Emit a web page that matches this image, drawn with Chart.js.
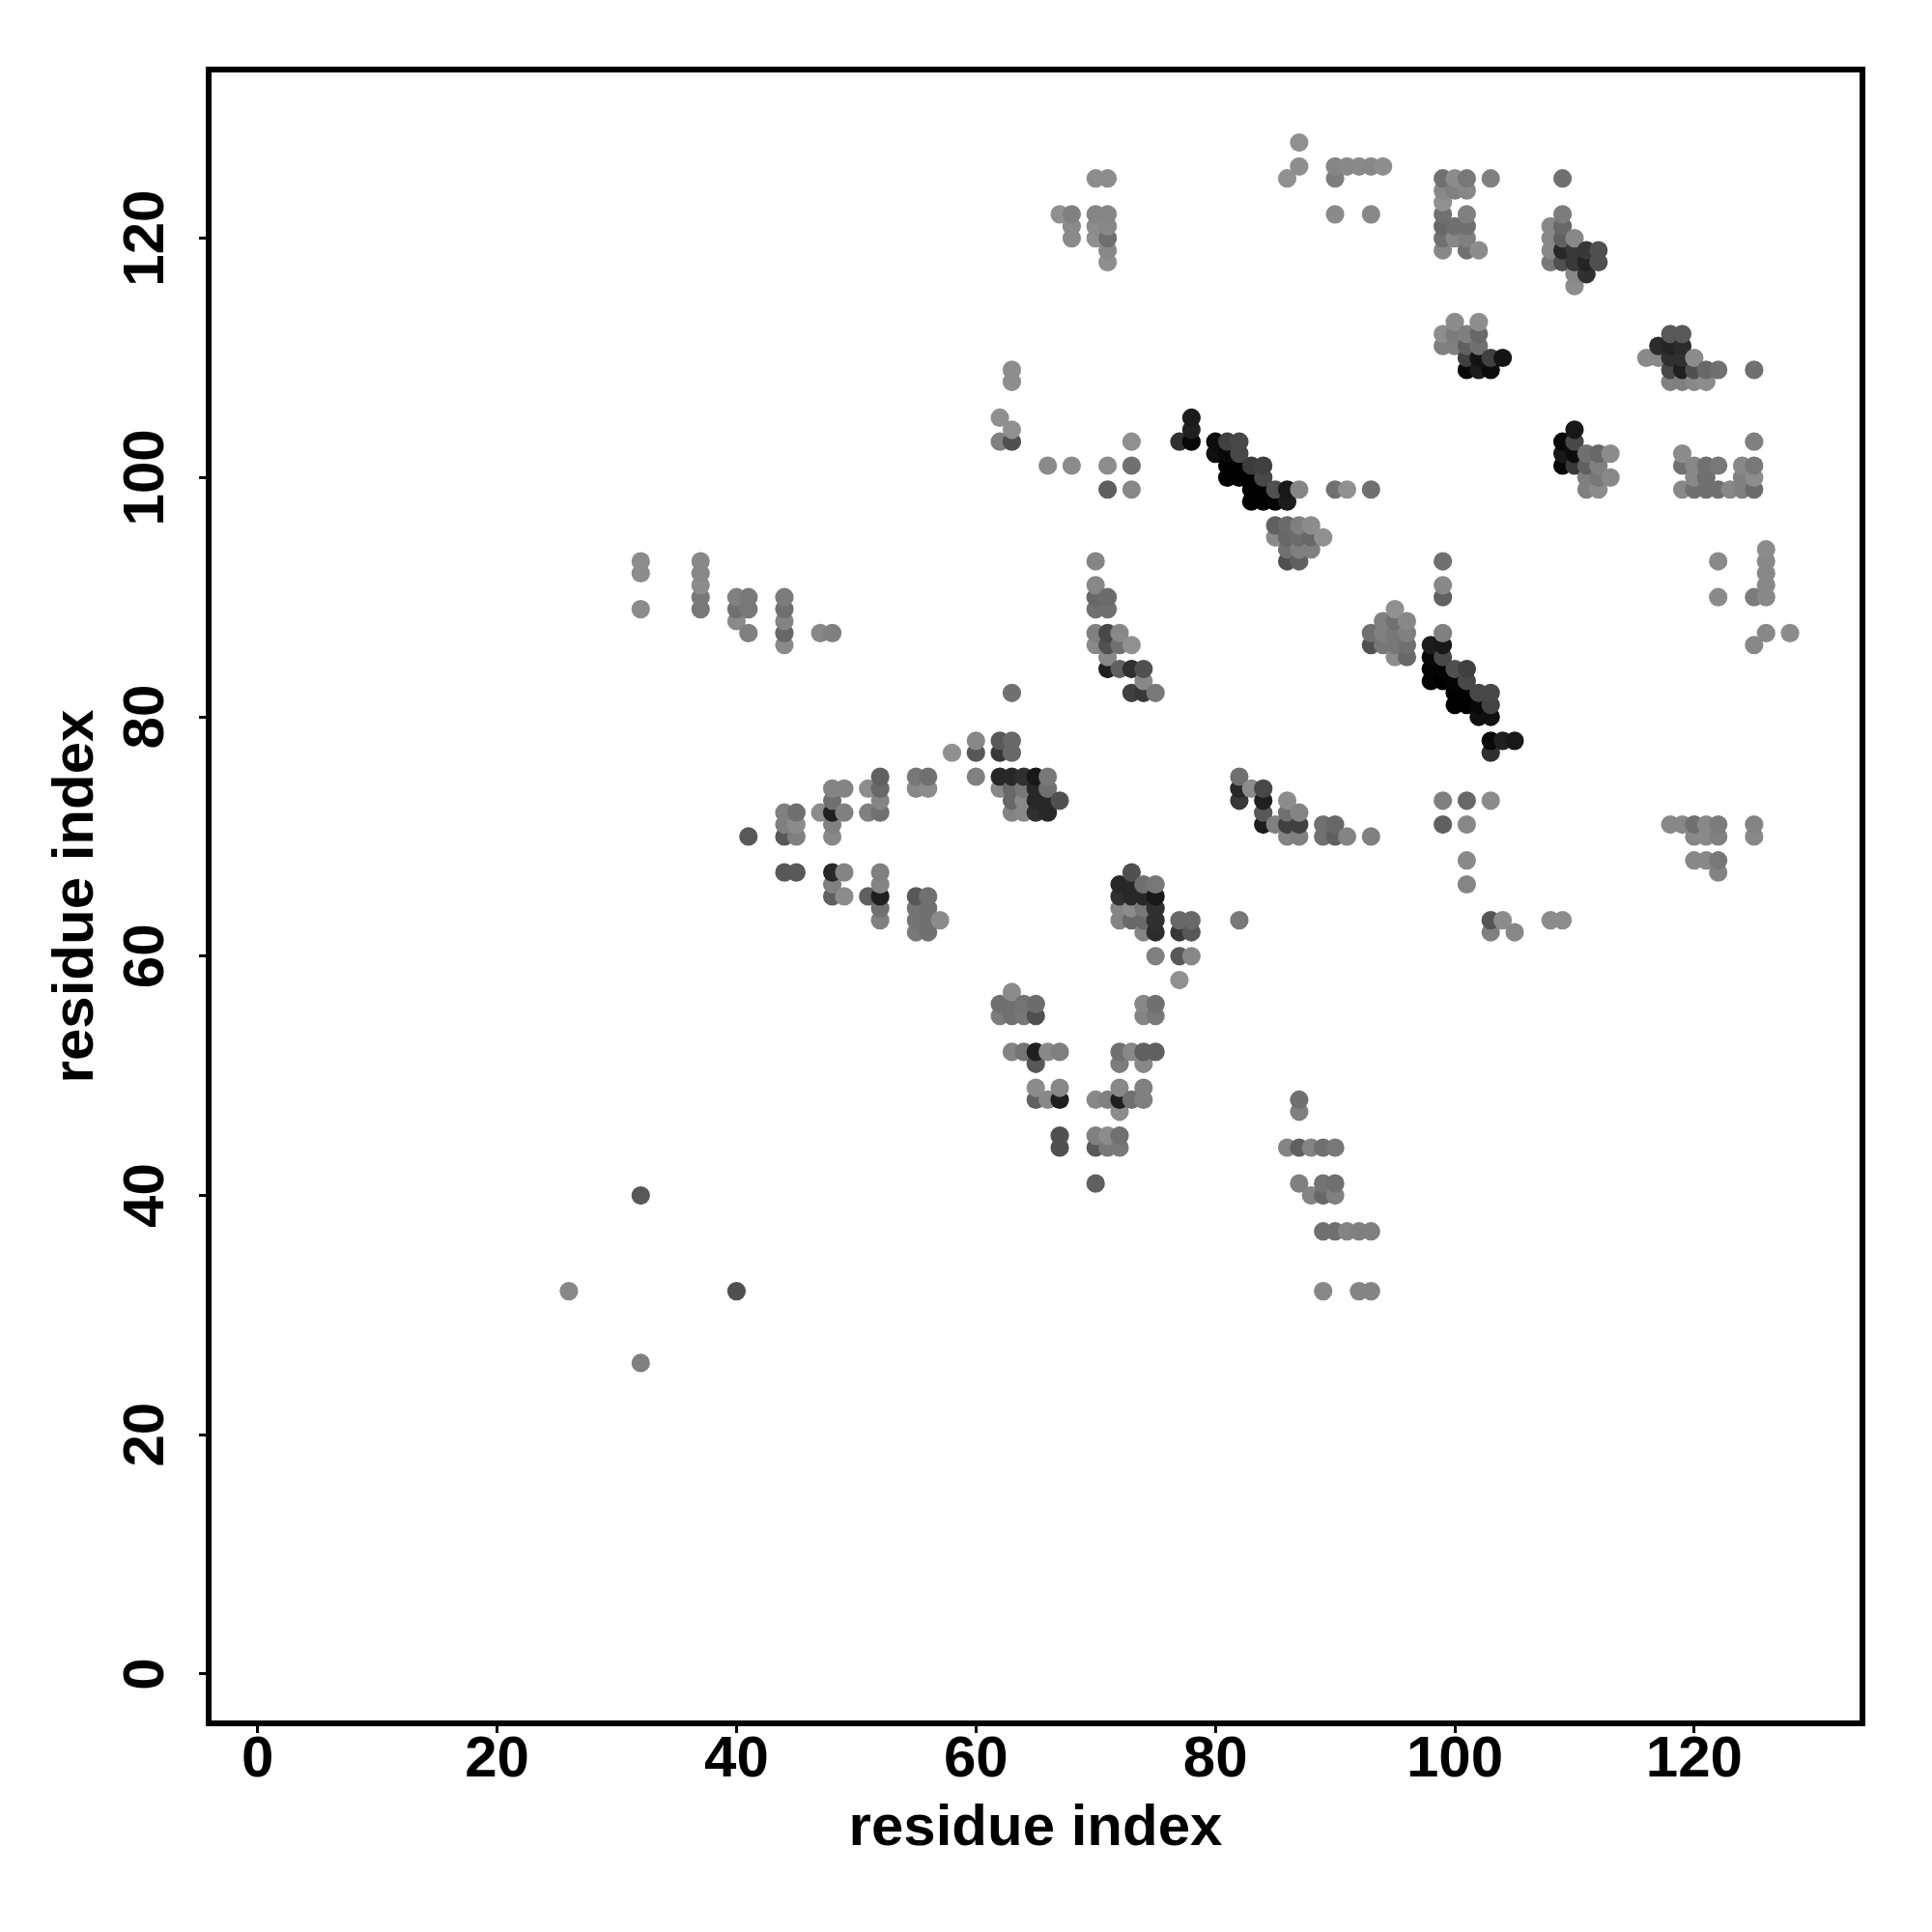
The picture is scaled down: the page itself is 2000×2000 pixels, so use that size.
<!DOCTYPE html>
<html>
<head>
<meta charset="utf-8">
<title>residue contacts</title>
<script src="https://cdn.jsdelivr.net/npm/chart.js@4"></script>
<style>
  html, body { margin: 0; padding: 0; background: #fff; }
  canvas { display: block; }
</style>
</head>
<body>
<canvas id="chart" width="2000" height="2000"></canvas>
<script>
const tickValues = [0, 20, 40, 60, 80, 100, 120];
const axisLabel = "residue index";

// same order in all three arrays, one line per blob in the picture
const residueX = [
  87,87,86,90,91,92,93,94,90,90,93,
  70,71,67,68,68,68,70,71,70,71,70,71,71,71,
  63,63,62,63,62,63,66,68,71,73,73,71,73,
  78,78,78,77,80,81,82,80,81,82,81,82,83,84,81,82,83,84,83,84,85,86,87,83,84,85,86,90,91,93,
  85,86,87,88,85,86,87,88,89,86,87,88,86,87,
  70,70,70,71,70,71,70,71,72,70,71,72,73,71,71,72,73,74,74,73,74,75,
  95,94,95,96,93,94,95,96,93,94,95,96,95,96,
  99,99,99,99,98,99,98,99,98,99,100,101,98,99,100,101,100,101,102,103,100,101,102,103,102,103,103,104,105,103,
  99,101,103,99,101,101,101,103,104,103,105,108,109,
  126,126,126,126,125,126,122,122,126,128,125,
  118,119,120,121,122,120,121,122,125,125,120,121,122,122,
  99,100,101,103,99,100,101,99,99,101,99,100,101,99,100,101,99,101,102,
  109,109,108,109,108,109,110,108,109,110,111,112,108,109,110,111,112,110,111,110,
  100,102,99,100,101,102,99,100,101,102,101,102,103,104,101,102,103,
  118,119,117,118,119,116,117,118,119,120,118,119,120,121,122,125,118,119,120,121,
  110,109,110,109,110,111,112,113,109,110,111,112,111,112,113,111,112,
  125,119,119,120,121,122,124,125,120,121,124,125,119,120,121,122,123,124,125,
  32,32,32,37,37,37,37,37,40,41,40,41,40,41,44,44,44,44,44,47,48,
  41,44,45,44,45,44,45,44,45,
  48,49,48,47,48,49,48,48,48,49,48,48,49,
  51,52,52,52,51,52,51,52,52,52,52,52,
  55,56,55,56,55,56,55,56,55,56,57,55,56,
  58,60,60,60,62,63,62,63,62,63,64,65,66,62,63,64,65,66,63,64,65,66,67,63,64,65,66,63,
  73,72,73,74,75,72,73,74,75,72,73,74,75,72,73,74,75,74,75,75,77,78,77,78,77,78,77,82,
  82,82,82,83,84,84,84,84,85,86,86,87,86,87,86,87,89,90,89,90,91,93,
  63,62,63,64,65,62,63,64,65,74,75,74,75,
  63,64,65,66,67,65,72,73,74,75,72,74,
  65,67,65,66,67,70,71,72,73,74,72,74,72,
  67,67,70,71,72,70,71,72,70,
  87,87,86,87,88,89,90,87,89,90,88,89,90,89,90,91,92,93,89,92,93,
  26,32,32,40
];
const residueY = [
  128,126,125,126,126,126,126,126,125,122,122,
  125,125,122,122,121,120,122,122,121,121,120,120,119,118,
  109,108,105,104,103,103,101,101,101,101,103,99,99,
  105,104,103,103,103,103,103,102,102,102,101,101,101,101,100,100,100,100,99,99,99,99,99,98,98,98,98,99,99,99,
  96,96,96,96,95,95,95,95,95,94,94,94,93,93,
  93,91,90,90,89,89,87,87,87,86,86,86,86,85,84,84,84,84,83,82,82,82,
  89,88,88,88,87,87,87,87,86,86,86,86,85,85,
  93,91,90,87,86,86,85,85,84,84,84,84,83,83,83,83,82,82,82,82,81,81,81,81,80,80,78,78,78,77,
  73,73,73,71,71,68,66,63,63,62,62,63,63,
  94,93,92,91,90,90,93,90,87,87,86,
  71,71,71,71,71,70,70,70,71,70,68,68,68,67,
  125,125,125,125,124,124,124,123,122,122,121,121,121,120,120,120,119,119,119,
  125,122,121,121,120,120,120,119,119,119,119,119,118,118,118,118,118,117,117,116,
  113,113,112,112,112,112,111,111,111,111,110,110,110,110,109,109,109,
  112,112,111,111,111,110,110,110,110,110,109,109,109,109,109,109,108,108,108,108,
  104,103,103,102,102,102,102,102,101,101,101,101,100,100,100,99,99,
  103,102,101,101,101,101,101,101,100,100,100,100,99,99,99,99,99,99,99,
  93,92,89,93,92,91,90,89,90,90,89,89,88,87,90,89,88,87,86,87,87,
  70,72,72,71,71,70,70,67,67,
  74,74,73,72,72,72,71,70,67,67,66,65,65,
  74,75,74,73,72,72,65,67,66,65,64,63,
  75,75,74,74,65,65,64,64,63,63,63,62,62,
  77,78,77,75,78,78,77,77,75,75,75,75,75,74,74,74,74,74,73,73,73,73,73,72,72,72,72,82,
  67,66,66,66,66,65,65,65,65,64,64,64,64,63,63,63,63,62,62,60,63,63,62,62,60,60,58,63,
  75,74,73,74,74,73,72,71,71,73,72,72,71,71,70,70,71,71,70,70,70,70,
  57,56,56,56,56,55,55,55,55,56,56,55,55,
  52,52,52,52,52,51,52,52,52,52,51,51,
  49,49,48,48,48,48,48,48,48,48,49,49,47,
  45,44,45,45,45,44,44,44,41,
  48,47,44,44,44,44,44,41,41,41,40,40,40,37,37,37,37,37,32,32,32,
  32,26,40,32
];
// grey level of each point
const shade = [
  0x90,0x8e,0x90,0x85,0x88,0x8a,0x88,0x8e,0x7d,0x8a,0x88,
  0x8d,0x8d,0x90,0x80,0x8a,0x8a,0x85,0x85,0x8d,0x88,0x90,0x6e,0x88,0x8e,
  0x8d,0x8e,0x90,0x90,0x80,0x50,0x8a,0x8c,0x8d,0x70,0x90,0x5e,0x88,
  0x1c,0x20,0x08,0x30,0x0c,0x40,0x48,0x10,0x08,0x48,0x00,0x00,0x3c,0x40,0x00,0x00,0x00,0x48,0x00,0x00,0x50,0x18,0x85,0x00,0x00,0x04,0x1c,0x70,0x90,0x70,
  0x60,0x6a,0x80,0x8c,0x8a,0x68,0x6c,0x68,0x90,0x70,0x80,0x80,0x50,0x60,
  0x85,0x88,0x68,0x6c,0x70,0x70,0x80,0x48,0x88,0x88,0x50,0x70,0x90,0x88,0x20,0x60,0x30,0x50,0x88,0x40,0x38,0x78,
  0x90,0x80,0x70,0x88,0x70,0x80,0x78,0x80,0x50,0x78,0x78,0x70,0x8c,0x68,
  0x70,0x88,0x60,0x80,0x1c,0x18,0x08,0x48,0x04,0x04,0x50,0x40,0x04,0x00,0x04,0x48,0x00,0x00,0x48,0x48,0x00,0x00,0x08,0x44,0x10,0x10,0x08,0x20,0x18,0x30,
  0x80,0x68,0x8c,0x60,0x88,0x8a,0x85,0x55,0x8c,0x80,0x88,0x8c,0x8c,
  0x8c,0x88,0x88,0x88,0x7c,0x88,0x8a,0x8a,0x88,0x8c,0x88,
  0x88,0x88,0x70,0x88,0x7c,0x88,0x8a,0x80,0x84,0x88,0x88,0x88,0x78,0x84,
  0x70,0x8c,0x78,0x80,0x88,0x80,0x88,0x90,0x70,0x80,0x68,0x70,0x70,0x70,0x88,0x80,0x88,0x70,0x8c,
  0x70,0x7c,0x88,0x68,0x88,0x60,0x88,0x88,0x28,0x38,0x38,0x50,0x78,0x50,0x38,0x24,0x50,0x88,0x30,0x8c,
  0x8c,0x8e,0x8e,0x7c,0x80,0x68,0x80,0x80,0x60,0x70,0x40,0x14,0x40,0x14,0x08,0x1c,0x0c,
  0x58,0x58,0x2c,0x24,0x2c,0x8a,0x88,0x30,0x30,0x8c,0x48,0x20,0x50,0x68,0x70,0x70,0x80,0x80,0x88,0x8c,
  0x18,0x08,0x48,0x18,0x0c,0x70,0x68,0x8c,0x08,0x38,0x60,0x80,0x80,0x78,0x88,0x80,0x8c,
  0x80,0x8c,0x70,0x88,0x70,0x78,0x88,0x78,0x88,0x70,0x80,0x8c,0x88,0x70,0x70,0x70,0x88,0x80,0x6c,
  0x8c,0x8c,0x8c,0x88,0x88,0x8c,0x78,0x78,0x80,0x78,0x70,0x78,0x8a,0x80,0x7c,0x70,0x84,0x68,0x8a,0x88,0x80,
  0x58,0x80,0x70,0x80,0x8c,0x58,0x80,0x58,0x58,
  0x84,0x84,0x70,0x8c,0x20,0x80,0x80,0x88,0x28,0x84,0x80,0x60,0x8c,
  0x8c,0x60,0x68,0x84,0x80,0x70,0x60,0x80,0x84,0x20,0x70,0x80,
  0x78,0x70,0x88,0x8c,0x58,0x70,0x74,0x70,0x74,0x70,0x8c,0x78,0x70,
  0x90,0x88,0x58,0x80,0x58,0x68,0x38,0x68,0x28,0x28,0x30,0x18,0x78,0x88,0x68,0x78,0x28,0x70,0x68,0x88,0x28,0x28,0x50,0x84,0x88,0x30,0x28,0x70,
  0x50,0x28,0x28,0x70,0x78,0x30,0x28,0x28,0x18,0x84,0x8c,0x78,0x30,0x84,0x68,0x68,0x30,0x84,0x2c,0x80,0x68,0x68,0x38,0x58,0x58,0x88,0x90,0x78,
  0x70,0x28,0x38,0x8c,0x48,0x20,0x58,0x1c,0x80,0x8c,0x70,0x84,0x40,0x40,0x84,0x80,0x70,0x68,0x70,0x60,0x84,0x80,
  0x8c,0x70,0x70,0x74,0x6c,0x7c,0x70,0x78,0x50,0x88,0x70,0x84,0x78,
  0x84,0x74,0x20,0x88,0x80,0x58,0x70,0x88,0x60,0x60,0x7c,0x88,
  0x8c,0x88,0x60,0x88,0x20,0x88,0x80,0x20,0x70,0x80,0x88,0x80,0x8c,
  0x50,0x50,0x80,0x8c,0x70,0x58,0x78,0x78,0x60,
  0x70,0x80,0x84,0x60,0x84,0x70,0x78,0x80,0x74,0x70,0x84,0x68,0x80,0x70,0x70,0x84,0x80,0x80,0x88,0x84,0x84,
  0x88,0x80,0x58,0x50
];

// overlaps in the picture go left to right, then bottom to top
const points = residueX
  .map((x, i) => ({ x, y: residueY[i], shade: shade[i] }))
  .sort((a, b) => a.x - b.x || a.y - b.y);

const font = { family: "'Liberation Sans', Arial, sans-serif", size: 60, weight: "bold" };

const frame = {
  id: "frame",
  afterDraw(chart) {
    const { ctx, chartArea: a } = chart;
    ctx.save();
    ctx.strokeStyle = "#000";
    ctx.lineWidth = 6;
    ctx.strokeRect(a.left, a.top, a.right - a.left, a.bottom - a.top);
    ctx.restore();
  }
};

function setTicks(axis) {
  axis.ticks = tickValues.map(value => ({ value }));
}

const gridOpts = {
  drawOnChartArea: false,
  drawTicks: true,
  tickLength: 10,
  tickWidth: 3,
  tickColor: "#000"
};

new Chart(document.getElementById("chart"), {
  type: "scatter",
  data: {
    datasets: [{
      data: points,
      pointRadius: 9.6,
      pointBorderWidth: 0,
      pointBackgroundColor: c => {
        const g = c.raw.shade;
        return `rgb(${g},${g},${g})`;
      }
    }]
  },
  plugins: [frame],
  options: {
    responsive: false,
    animation: false,
    layout: { padding: { top: 72, right: 72, left: 0, bottom: 0 } },
    plugins: { legend: { display: false }, tooltip: { enabled: false } },
    scales: {
      x: {
        type: "linear",
        min: -4.09,
        max: 134.05,
        afterBuildTicks: setTicks,
        afterFit(s) { s.height = 216; },
        grid: gridOpts,
        border: { display: false },
        ticks: { color: "#000", font, padding: -8, maxRotation: 0, minRotation: 0, autoSkip: false },
        title: { display: true, text: axisLabel, color: "#000", font, padding: { top: 0, bottom: 71 } }
      },
      y: {
        type: "linear",
        min: -4.12,
        max: 134.1,
        afterBuildTicks: setTicks,
        afterFit(s) { s.width = 216; },
        grid: gridOpts,
        border: { display: false },
        ticks: { color: "#000", font, padding: 3, minRotation: 90, maxRotation: 90, crossAlign: "center", autoSkip: false },
        title: { display: true, text: axisLabel, color: "#000", font, padding: { top: 43, bottom: 0 } }
      }
    }
  }
});
</script>
</body>
</html>
